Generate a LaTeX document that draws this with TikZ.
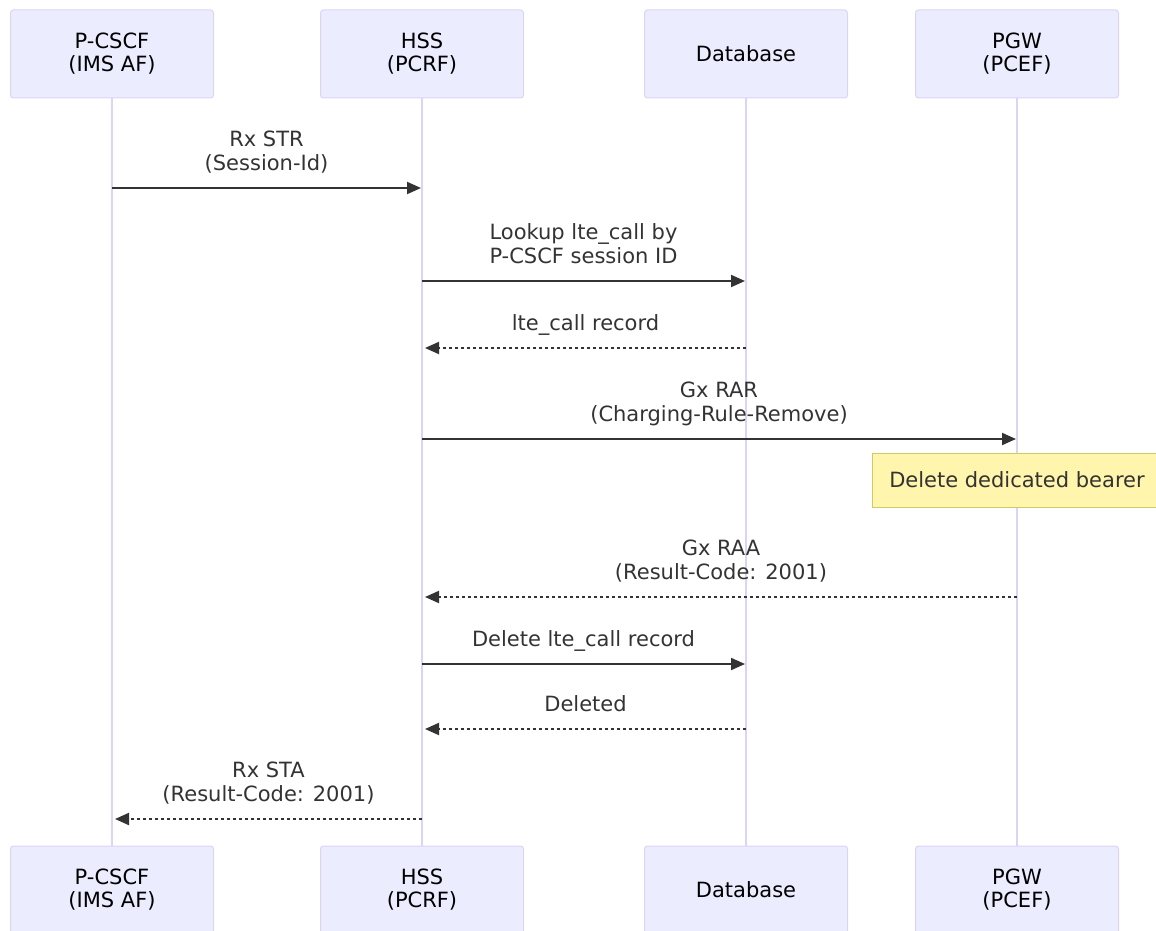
\documentclass[tikz,border=0pt]{standalone}
\usepackage{fontspec}
\setmainfont{DejaVu Sans}
\usetikzlibrary{arrows.meta}

\definecolor{actorfill}{HTML}{ECECFF}
\definecolor{actorline}{HTML}{DCD4F4}
\definecolor{msgcol}{HTML}{333333}
\definecolor{notefill}{HTML}{FFF5AD}
\definecolor{noteline}{HTML}{CCCC66}

\newcommand{\twoline}[2]{\begin{tabular}[b]{@{}c@{}}#1\\#2\end{tabular}}

\tikzset{
  actor/.style={draw=actorline, fill=actorfill, line width=1pt, rounded corners=3pt,
    minimum width=203pt, minimum height=88pt, align=center, text=black,
    font=\fontsize{21}{23}\selectfont},
  lifeline/.style={draw=actorline, line width=2pt},
  msg/.style={draw=msgcol, line width=2pt, -{Triangle[length=14pt,width=12pt]}},
  reply/.style={msg, dash pattern=on 3pt off 3pt},
  lbl/.style={anchor=base, yshift=18pt, inner sep=0pt, text=msgcol,
    font=\fontsize{21}{24}\selectfont},
  note/.style={draw=noteline, fill=notefill, line width=1pt, minimum width=290pt,
    minimum height=54pt, text=msgcol, font=\fontsize{21}{24}\selectfont}
}

\begin{document}
\begin{tikzpicture}[x=1pt,y=-1pt]
\useasboundingbox (0,0) rectangle (1156,931);
\clip (0,0) rectangle (1156,931);

% participants, top row
\node[actor] (pT) at (112,54)  {P-CSCF\\(IMS AF)};
\node[actor] (hT) at (422,54)  {HSS\\(PCRF)};
\node[actor] (dT) at (746,54)  {Database};
\node[actor] (gT) at (1017,54) {PGW\\(PCEF)};

% participants, bottom row
\node[actor] (pB) at (112,890)  {P-CSCF\\(IMS AF)};
\node[actor] (hB) at (422,890)  {HSS\\(PCRF)};
\node[actor] (dB) at (746,890)  {Database};
\node[actor] (gB) at (1017,890) {PGW\\(PCEF)};

% lifelines
\draw[lifeline] (pT.south) -- (pB.north);
\draw[lifeline] (hT.south) -- (hB.north);
\draw[lifeline] (dT.south) -- (dB.north);
\draw[lifeline] (gT.south) -- (gB.north);

% note over the gateway
\node[note] (bearer) at (1017,480) {Delete dedicated bearer};

% messages
\draw[msg] (pT.south |- 0,188) -- ([xshift=-1pt]hT.south |- 0,188)
  node[lbl, midway] {\twoline{Rx STR}{(Session-Id)}};
\draw[msg] (hT.south |- 0,281) -- ([xshift=-1pt]dT.south |- 0,281)
  node[lbl, midway] {\twoline{Lookup lte\_call by}{P-CSCF session ID}};
\draw[reply] (dT.south |- 0,348) -- ([xshift=3pt]hT.south |- 0,348)
  node[lbl, midway] {lte\_call record};
\draw[msg] (hT.south |- 0,439) -- ([xshift=-1pt]gT.south |- 0,439)
  node[lbl, midway] {\twoline{Gx RAR}{(Charging-Rule-Remove)}};
\draw[reply] (gT.south |- 0,597) -- ([xshift=3pt]hT.south |- 0,597)
  node[lbl, midway] {\twoline{Gx RAA}{(Result-Code: 2001)}};
\draw[msg] (hT.south |- 0,664) -- ([xshift=-1pt]dT.south |- 0,664)
  node[lbl, midway] {Delete lte\_call record};
\draw[reply] (dT.south |- 0,729) -- ([xshift=3pt]hT.south |- 0,729)
  node[lbl, midway] {Deleted};
\draw[reply] (hT.south |- 0,819) -- ([xshift=3pt]pT.south |- 0,819)
  node[lbl, midway] {\twoline{Rx STA}{(Result-Code: 2001)}};
\end{tikzpicture}
\end{document}
